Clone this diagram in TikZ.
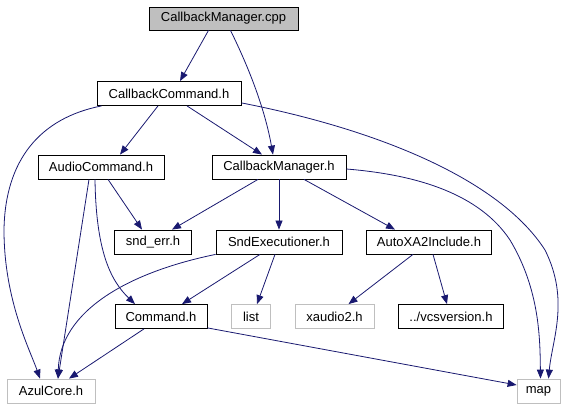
\documentclass[tikz,border=0pt]{standalone}
\usepackage{fontspec}
\setmainfont{Liberation Sans}
\usetikzlibrary{positioning,arrows.meta}
\definecolor{edgeblue}{RGB}{25,25,112}
\definecolor{sysgray}{RGB}{191,191,191}

\begin{document}
\begin{tikzpicture}[x=1pt,y=-1pt,
    hdr/.style={draw=black,line width=0.8pt,minimum height=24pt,inner sep=1pt,fill=white,font=\fontsize{13}{15}\selectfont},
    sys/.style={hdr,draw=sysgray},
    root/.style={hdr,fill=sysgray},
    edge/.style={-{Triangle[length=9pt,width=7pt]},line width=0.8pt,draw=edgeblue},
]
\useasboundingbox (0,0) rectangle (567,411);
\node[root,minimum width=149pt,minimum height=23pt] (cpp) at (223.5,18.5) {CallbackManager.cpp};
\node[hdr,minimum width=144pt] (cbcmd)   at (169,93.5) {CallbackCommand.h};
\node[hdr,minimum width=126pt] (audio)   at (101,167) {AudioCommand.h};
\node[hdr,minimum width=134pt] (cbmgr)   at (279,167) {CallbackManager.h};
\node[hdr,minimum width=77pt]  (snderr)  at (153,242) {snd\_err.h};
\node[hdr,minimum width=126pt] (sndexec) at (279,242) {SndExecutioner.h};
\node[hdr,minimum width=125pt] (autoxa)  at (429,242) {AutoXA2Include.h};
\node[hdr,minimum width=92pt]  (command) at (161,316.5) {Command.h};
\node[sys,minimum width=39pt]  (list)    at (251,316.5) {list};
\node[sys,minimum width=79pt]  (xaudio)  at (334.5,316.5) {xaudio2.h};
\node[hdr,minimum width=105pt] (vcs)     at (451,316.5) {../vcsversion.h};
\node[sys,minimum width=88pt]  (azul)    at (51,391) {AzulCore.h};
\node[sys,minimum width=43pt]  (map)     at (538.5,391) {map};

% from the source file
\draw[edge] ([xshift=-15pt]cpp.south) -- ([xshift=11pt]cbcmd.north);
\draw[edge] ([xshift=7pt]cpp.south) .. controls (250,70) and (265,110) .. ([xshift=-6pt]cbmgr.north);

% CallbackCommand.h
\draw[edge] ([xshift=-11pt]cbcmd.south) -- ([xshift=19pt]audio.north);
\draw[edge] ([xshift=18pt]cbcmd.south) -- ([xshift=-17pt]cbmgr.north);
\draw[edge] ([xshift=5pt]cbcmd.south west) .. controls (40,118) and (5,160) .. (4,230)
    .. controls (4,300) and (30,350) .. ([xshift=-11pt]azul.north);
\draw[edge] ([yshift=3pt]cbcmd.south east) .. controls (380,130) and (500,180) .. (545,250)
    .. controls (570,300) and (552,340) .. ([xshift=10pt]map.north);

% AudioCommand.h
\draw[edge] ([xshift=7pt]audio.south) -- ([xshift=-11pt]snderr.north);
\draw[edge] ([xshift=-6pt]audio.south) .. controls (96,250) and (110,280) .. ([xshift=-26pt]command.north);
\draw[edge] ([xshift=-12pt]audio.south) -- ([xshift=7pt]azul.north);

% CallbackManager.h
\draw[edge] ([xshift=-21pt]cbmgr.south) -- ([xshift=19pt]snderr.north);
\draw[edge] (cbmgr) -- (sndexec);
\draw[edge] ([xshift=25pt]cbmgr.south) -- ([xshift=-34pt]autoxa.north);
\draw[edge] ([yshift=-2pt]cbmgr.east) .. controls (420,175) and (480,195) .. (510,240)
    .. controls (540,290) and (540,340) .. ([xshift=2pt]map.north);

% SndExecutioner.h
\draw[edge] ([xshift=-19pt]sndexec.south) -- ([xshift=21pt]command.north);
\draw[edge] ([xshift=-4pt]sndexec.south) -- ([xshift=6pt]list.north);
\draw[edge] (sndexec.south west) .. controls (130,272) and (60,310) .. ([xshift=7pt]azul.north);

% AutoXA2Include.h
\draw[edge] ([xshift=-16pt]autoxa.south) -- ([xshift=14pt]xaudio.north);
\draw[edge] ([xshift=4pt]autoxa.south) -- ([xshift=-4pt]vcs.north);

% Command.h
\draw[edge] ([xshift=-17pt]command.south) -- ([xshift=18pt]azul.north);
\draw[edge] ([yshift=1pt]command.south east) -- ([yshift=6pt]map.west);
\end{tikzpicture}
\end{document}
